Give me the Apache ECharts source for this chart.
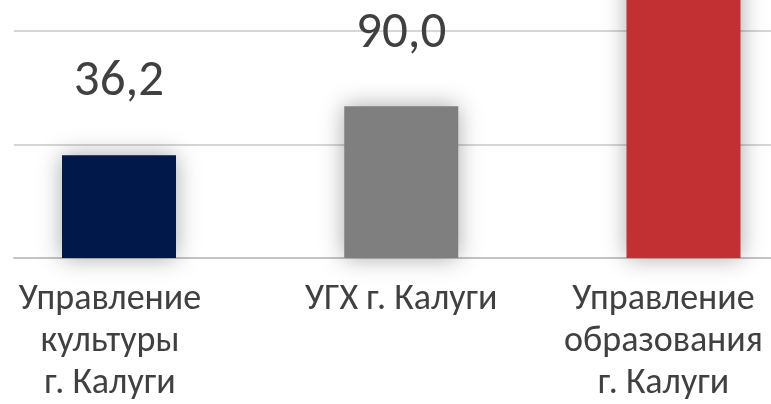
<!DOCTYPE html>
<html>
<head>
<meta charset="utf-8">
<script src="https://cdn.jsdelivr.net/npm/echarts/dist/echarts.min.js"></script>
<style>
  html, body { margin: 0; padding: 0; background: #fff; }
  #chart { width: 771px; height: 404px; }
</style>
</head>
<body>
<div id="chart"></div>
<script>
// categories and values
const categories = [
  "Управление\nкультуры\nг. Калуги",
  "УГХ г. Калуги",
  "Управление\nобразования\nг. Калуги",
];
const values = [36.2, 90.0, 250.0];
const barColors = ["#00194A", "#7F7F7F", "#C33033"];

// value axis (labels hidden), bars grow from axisMin
const axisMin = -77;
const axisMax = 207;
const axisInterval = 125;

const font = "Carlito, Lato, 'Noto Sans', sans-serif";
const textColor = "#404040";
const barWidth = 114;
// label shift (right padding) per category, as in the original layout
const labelPadRight = [18, 0, 40];

const fmt = (v) => v.toFixed(1).replace(".", ",");

const myChart = echarts.init(document.getElementById("chart"));

function renderBar(params, api) {
  const i = api.value(0);
  const v = api.value(1);
  const top = api.coord([i, v]);
  const base = api.coord([i, axisMin]);
  return {
    type: "rect",
    shape: {
      x: top[0] - barWidth / 2,
      y: top[1],
      width: barWidth,
      height: base[1] - top[1],
    },
    style: {
      fill: barColors[i],
      shadowBlur: 22,
      shadowColor: "rgba(0,0,0,0.34)",
    },
    textContent: {
      style: {
        text: fmt(v),
        fill: textColor,
        font: "51px " + font,
      },
    },
    textConfig: { position: "top", distance: 47 },
  };
}

const option = {
  animation: false,
  grid: [
    // bars
    { left: 119, right: 87.5, top: 0, bottom: 146, containLabel: false, outerBoundsMode: "none" },
    // gridlines + axis line
    { left: 14, right: 0, top: 0, bottom: 146, containLabel: false, outerBoundsMode: "none" },
  ],
  xAxis: [
    {
      type: "category",
      gridIndex: 0,
      boundaryGap: false,
      data: categories.map((c, i) => ({
        value: c,
        textStyle: { padding: [0, labelPadRight[i], 0, 0] },
      })),
      axisLine: { show: false },
      axisTick: { show: false },
      splitLine: { show: false },
      axisLabel: {
        color: textColor,
        fontFamily: font,
        fontSize: 36,
        lineHeight: 42,
        margin: 21,
        interval: 0,
      },
    },
    {
      type: "value",
      gridIndex: 1,
      min: 0,
      max: 1,
      axisLine: { show: true, onZero: false, lineStyle: { color: "#C4C4C4", width: 2 } },
      axisTick: { show: false },
      axisLabel: { show: false },
      splitLine: { show: false },
    },
  ],
  yAxis: [
    {
      type: "value",
      gridIndex: 0,
      min: axisMin,
      max: axisMax,
      interval: axisInterval,
      axisLine: { show: false },
      axisTick: { show: false },
      axisLabel: { show: false },
      splitLine: { show: false },
    },
    {
      type: "value",
      gridIndex: 1,
      min: axisMin,
      max: axisMax,
      interval: axisInterval,
      axisLine: { show: false },
      axisTick: { show: false },
      axisLabel: { show: false },
      splitLine: {
        show: true,
        showMaxLine: false,
        lineStyle: { color: "#D6D6D6", width: 2 },
      },
    },
  ],
  series: [
    {
      type: "custom",
      xAxisIndex: 0,
      yAxisIndex: 0,
      clip: false,
      z: 3,
      renderItem: renderBar,
      encode: { x: 0, y: 1 },
      data: values.map((v, i) => [i, v]),
    },
  ],
};

option && myChart.setOption(option);
</script>
</body>
</html>
